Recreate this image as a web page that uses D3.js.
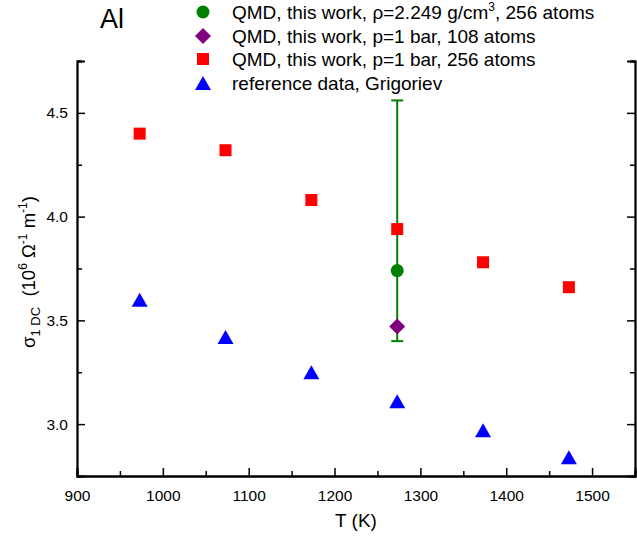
<!DOCTYPE html>
<html lang="en">
<head>
<meta charset="UTF-8">
<title>Al conductivity</title>
<style>
  body { margin: 0; background: #fff; }
  text { font-family: "Liberation Sans", Arial, sans-serif; fill: #000; }
</style>
</head>
<body>
<script src="https://d3js.org/d3.v7.min.js"></script>
<script>
// data
var temps = [973, 1073, 1173, 1273, 1373, 1473];
var qmd256 = [4.40, 4.32, 4.08, 3.94, 3.78, 3.66];      // p=1 bar, 256 atoms
var grigoriev = [3.60, 3.42, 3.25, 3.11, 2.97, 2.84];   // reference data
var rhoT = [1273];
var rhoVal = [3.74];        // rho=2.249 g/cm3, 256 atoms
var rhoErrLow = [3.40];
var rhoErrHigh = [4.56];
var p108T = [1273];
var p108Val = [3.47];
var xTicks = [900, 1000, 1100, 1200, 1300, 1400, 1500];
var yTicks = [3.0, 3.5, 4.0, 4.5];

var width = 637, height = 541;
var svg = d3.select('body').append('svg').attr('width', width).attr('height', height);

var x = d3.scaleLinear().domain([900, 1550]).range([77, 635]);
var y = d3.scaleLinear().domain([2.75, 4.75]).range([476, 61]);

var axisW = 1.8;

// bottom axis
var gx = svg.append('g').attr('transform', 'translate(0,' + y(2.75) + ')');
gx.call(d3.axisBottom(x).tickValues(xTicks).tickSize(-8).tickPadding(14).tickFormat(d3.format('d')));
gx.append('g').call(d3.axisBottom(x).tickValues(d3.range(950, 1551, 100)).tickSize(-5).tickFormat(''));

// left axis
var gy = svg.append('g').attr('transform', 'translate(' + x(900) + ',0)');
gy.call(d3.axisLeft(y).tickValues(yTicks).tickSize(-8).tickPadding(9).tickFormat(d3.format('.1f')));
gy.append('g').call(d3.axisLeft(y).tickValues([3.25, 3.75, 4.25, 4.75]).tickSize(-5).tickFormat(''));

// right axis, no labels
var gr = svg.append('g').attr('transform', 'translate(' + x(1550) + ',0)');
gr.call(d3.axisRight(y).tickValues(yTicks).tickSize(-8).tickFormat(''));
gr.append('g').call(d3.axisRight(y).tickValues([3.25, 3.75, 4.25, 4.75]).tickSize(-5).tickFormat(''));

svg.selectAll('.domain').attr('stroke', '#000').attr('stroke-width', axisW);
svg.selectAll('.tick line').attr('stroke', '#000').attr('stroke-width', 1.5);
svg.selectAll('.tick text').style('font-size', '15.5px').attr('fill', '#000')
  .style('font-family', '"Liberation Sans", Arial, sans-serif');

// axis titles
svg.append('text').attr('x', 356).attr('y', 527).attr('text-anchor', 'middle')
  .style('font-size', '19px').text('T (K)');

var yt = svg.append('text').attr('transform', 'translate(35,272) rotate(-90)')
  .attr('text-anchor', 'middle').style('font-size', '18.5px');
yt.append('tspan').text('\u03c3');
yt.append('tspan').attr('dy', 5).style('font-size', '13px').text('1 DC');
yt.append('tspan').attr('dy', -5).text('\u00a0\u00a0(10');
yt.append('tspan').attr('dy', -8).style('font-size', '12px').text('6');
yt.append('tspan').attr('dy', 8).text(' \u03a9');
yt.append('tspan').attr('dy', -8).style('font-size', '12px').text('-1');
yt.append('tspan').attr('dy', 8).text(' m');
yt.append('tspan').attr('dy', -8).style('font-size', '12px').text('-1');
yt.append('tspan').attr('dy', 8).text(')');

// marker shapes
function tri(cx, cy) {
  return 'M' + (cx - 8) + ',' + (cy + 7) + 'L' + cx + ',' + (cy - 7) + 'L' + (cx + 8) + ',' + (cy + 7) + 'Z';
}
function diamond(cx, cy) {
  return 'M' + cx + ',' + (cy - 8) + 'L' + (cx + 8) + ',' + cy + 'L' + cx + ',' + (cy + 8) + 'L' + (cx - 8) + ',' + cy + 'Z';
}

// error bar of the rho series
var eb = svg.append('g');
rhoT.forEach(function (t, i) {
  eb.append('line').attr('x1', x(t)).attr('x2', x(t)).attr('y1', y(rhoErrLow[i])).attr('y2', y(rhoErrHigh[i]))
    .attr('stroke', '#008000').attr('stroke-width', 2);
  [rhoErrLow[i], rhoErrHigh[i]].forEach(function (v) {
    eb.append('line').attr('x1', x(t) - 6).attr('x2', x(t) + 6).attr('y1', y(v)).attr('y2', y(v))
      .attr('stroke', '#008000').attr('stroke-width', 2);
  });
});

// reference data, triangles
svg.selectAll('path.ref').data(temps).enter().append('path').attr('class', 'ref')
  .attr('d', function (d, i) { return tri(x(d), y(grigoriev[i])); })
  .attr('fill', '#0000ff');

// QMD p=1 bar 256 atoms, squares
svg.selectAll('rect.q256').data(temps).enter().append('rect').attr('class', 'q256')
  .attr('x', function (d) { return x(d) - 6; })
  .attr('y', function (d, i) { return y(qmd256[i]) - 6; })
  .attr('width', 12).attr('height', 12).attr('fill', '#ff0000');

// QMD rho, circle
svg.selectAll('circle.rho').data(rhoT).enter().append('circle').attr('class', 'rho')
  .attr('cx', function (d) { return x(d); })
  .attr('cy', function (d, i) { return y(rhoVal[i]); })
  .attr('r', 6.5).attr('fill', '#008000');

// QMD 108 atoms, diamond
svg.selectAll('path.p108').data(p108T).enter().append('path').attr('class', 'p108')
  .attr('d', function (d, i) { return diamond(x(d), y(p108Val[i])); })
  .attr('fill', '#800080');

// label
svg.append('text').attr('x', 100).attr('y', 28).style('font-size', '27px').text('Al');

// legend
var legY = [12, 36, 59, 83];
var lg = svg.append('g');
lg.append('circle').attr('cx', 203).attr('cy', legY[0]).attr('r', 6.5).attr('fill', '#008000');
lg.append('path').attr('d', diamond(203, legY[1])).attr('fill', '#800080');
lg.append('rect').attr('x', 197).attr('y', legY[2] - 6).attr('width', 12).attr('height', 12).attr('fill', '#ff0000');
lg.append('path').attr('d', tri(203, legY[3])).attr('fill', '#0000ff');

var l1 = lg.append('text').attr('x', 232).attr('y', legY[0] + 7).style('font-size', '19px');
l1.append('tspan').text('QMD, this work, \u03c1=2.249 g/cm');
l1.append('tspan').attr('dy', -8).style('font-size', '12px').text('3');
l1.append('tspan').attr('dy', 8).text(', 256 atoms');
lg.append('text').attr('x', 232).attr('y', legY[1] + 7).style('font-size', '19px').text('QMD, this work, p=1 bar, 108 atoms');
lg.append('text').attr('x', 232).attr('y', legY[2] + 7).style('font-size', '19px').text('QMD, this work, p=1 bar, 256 atoms');
lg.append('text').attr('x', 232).attr('y', legY[3] + 7).style('font-size', '19px').text('reference data, Grigoriev');
</script>
</body>
</html>
